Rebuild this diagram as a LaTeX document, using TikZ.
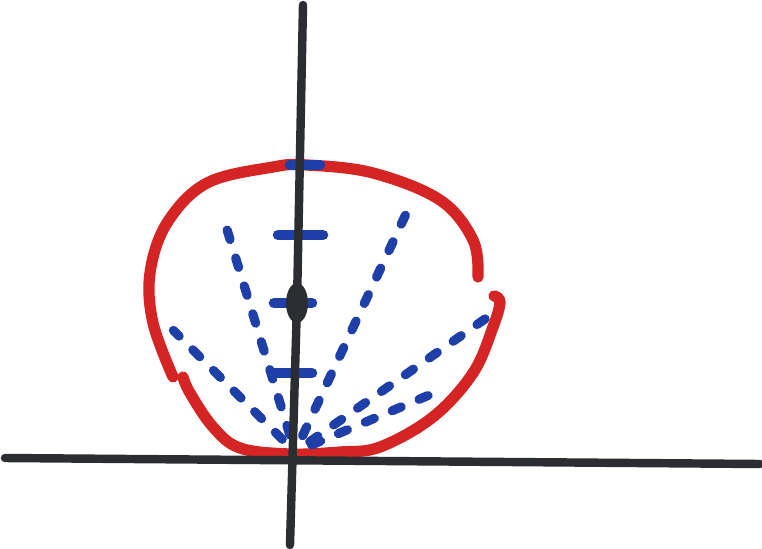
\documentclass[tikz,border=0pt]{standalone}
\usepackage{xcolor}
\usepackage{tikz}
\usetikzlibrary{calc,shapes.geometric}
\definecolor{Ink}{HTML}{2B2D33}
\definecolor{Crimson}{HTML}{D42424}
\definecolor{Cobalt}{HTML}{1F3FA8}
\begin{document}
\begin{tikzpicture}[
  axis/.style={line width=2.4pt,draw=Ink,line cap=round},
  lobe/.style={line width=3.2pt,draw=Crimson,line cap=round,line join=round},
  ray/.style={line width=2.6pt,draw=Cobalt,line cap=round,dash pattern=on 2.8pt off 5.5pt},
  tick/.style={line width=3pt,draw=Cobalt,line cap=round}
]
\useasboundingbox (0,0) rectangle (7.62,5.48);
\coordinate (O) at (2.95,0.96);
% axes
\coordinate (xl) at (0.05,0.90); \coordinate (xr) at (7.60,0.84);
\coordinate (yb) at (2.90,0.03); \coordinate (yt) at (3.03,5.43);
% red lobe, two strokes
\draw[lobe] plot[smooth,tension=0.6] coordinates {(1.73,1.71) (1.53,2.25) (1.50,2.75) (1.67,3.25) (2.07,3.65) (2.73,3.81) (3.07,3.83) (3.73,3.75) (4.40,3.48) (4.73,3.08) (4.78,2.71)};
\draw[lobe] plot[smooth,tension=0.6] coordinates {(4.94,2.52) (5.00,2.46) (4.93,2.21) (4.73,1.75) (4.33,1.31) (3.80,1.01) (3.40,0.96) (2.90,0.94) (2.40,1.00) (2.13,1.21) (1.90,1.55) (1.83,1.71)};
% dashed rays
\foreach \a/\r in {135/1.72,107/2.45,65/2.65,35/2.33,23/1.60}
  \draw[ray] ($(O)+(\a:0.18)$) -- ($(O)+(\a:\r)$);
% ticks on the vertical axis
\foreach \y/\xa/\xb in {3.83/2.90/3.20,3.13/2.78/3.23,2.45/2.74/3.12,1.75/2.73/3.12}
  \draw[tick] (\xa,\y) -- (\xb,\y);
\draw[axis] (xl) -- (xr);
\draw[axis] (yb) -- (2.97,2.45) -- (yt);
\node[fill=Ink,ellipse,inner sep=0pt,minimum width=0.22cm,minimum height=0.40cm] (dot) at (2.97,2.45) {};
\end{tikzpicture}
\end{document}
